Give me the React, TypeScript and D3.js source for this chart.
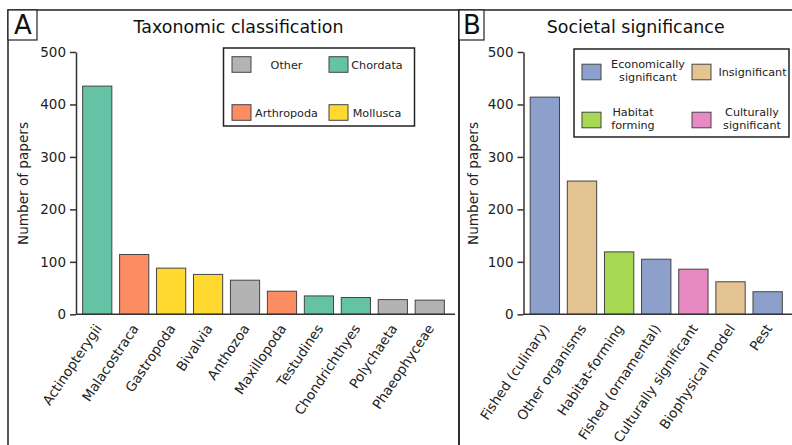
import * as d3 from "d3";
import { useEffect, useRef } from "react";

// panel A: taxonomic classification
const taxaNames = ["Actinopterygii", "Malacostraca", "Gastropoda", "Bivalvia", "Anthozoa", "Maxillopoda", "Testudines", "Chondrichthyes", "Polychaeta", "Phaeophyceae"];
const taxaCounts = [435, 114, 88, 76, 65, 44, 35, 32, 28, 27];
const taxaGroups = ["Chordata", "Arthropoda", "Mollusca", "Mollusca", "Other", "Arthropoda", "Chordata", "Chordata", "Other", "Other"];
const taxaLegend = ["Other", "Chordata", "Arthropoda", "Mollusca"];
const taxaColours = ["#b3b3b3", "#66c2a5", "#fc8d62", "#ffd92f"];

// panel B: societal significance
const sigNames = ["Fished (culinary)", "Other organisms", "Habitat-forming", "Fished (ornamental)", "Culturally significant", "Biophysical model", "Pest"];
const sigCounts = [414, 254, 119, 105, 86, 62, 43];
const sigGroups = ["Economically significant", "Insignificant", "Habitat forming", "Economically significant", "Culturally significant", "Insignificant", "Economically significant"];
const sigLegend = ["Economically significant", "Insignificant", "Habitat forming", "Culturally significant"];
const sigColours = ["#8da0cb", "#e5c494", "#a6d854", "#e78ac3"];

const yTicks = [0, 100, 200, 300, 400, 500];

const W = 792, H = 445;
const FONT = "DejaVu Sans, Verdana, sans-serif";

const App = () => {
  const ref = useRef<SVGSVGElement>(null);

  useEffect(() => {
    const svg = d3.select(ref.current);
    svg.selectAll("*").remove();

    const y = d3.scaleLinear().domain([0, 500]).range([314.3, 52]);

    const panels = [
      {
        letter: "A", title: "Taxonomic classification",
        left: 8, right: 459, letterBox: [8, 37], titleX: 238.5,
        axisX: 76, xRange: [76, 451], axisEnd: 455, yLabelX: 28,
        names: taxaNames, counts: taxaCounts, groups: taxaGroups,
        legend: taxaLegend, colours: taxaColours,
        box: [223.5, 48, 191, 78], swX: [232, 329], rowC: [64.5, 112.5], txtX: [286.5, 377, 286.5, 377], split: false,
      },
      {
        letter: "B", title: "Societal significance",
        left: 459, right: 800, letterBox: [459, 484], titleX: 635.7,
        axisX: 523.5, xRange: [523.5, 789], axisEnd: 795, yLabelX: 478,
        names: sigNames, counts: sigCounts, groups: sigGroups,
        legend: sigLegend, colours: sigColours,
        box: [574, 49, 215, 88], swX: [582, 692], rowC: [72, 120], txtX: [648, 752.5, 633, 752], split: true,
      },
    ];

    panels.forEach(p => {
      const g = svg.append("g");
      const colour = d3.scaleOrdinal<string, string>().domain(p.legend).range(p.colours);

      // panel frame + letter box
      g.append("rect").attr("x", p.left).attr("y", 10).attr("width", p.right - p.left).attr("height", 460)
        .attr("fill", "none").attr("stroke", "#222").attr("stroke-width", 1.5);
      g.append("rect").attr("x", p.letterBox[0]).attr("y", 10).attr("width", p.letterBox[1] - p.letterBox[0]).attr("height", 30)
        .attr("fill", "white").attr("stroke", "#222").attr("stroke-width", 1.2);
      g.append("text").attr("x", (p.letterBox[0] + p.letterBox[1]) / 2 + 0.5).attr("y", 33.5)
        .attr("text-anchor", "middle").attr("font-family", FONT).attr("font-size", 26).attr("fill", "#111").text(p.letter);
      g.append("text").attr("x", p.titleX).attr("y", 33)
        .attr("text-anchor", "middle").attr("font-family", FONT).attr("font-size", 17.4).attr("fill", "#111").text(p.title);

      const x = d3.scaleBand<string>().domain(p.names).range(p.xRange as [number, number]).paddingInner(0.21).paddingOuter(0.18);

      // bars
      g.selectAll("rect.bar").data(p.names).enter().append("rect")
        .attr("class", "bar")
        .attr("x", d => x(d)!)
        .attr("y", (d, i) => y(p.counts[i]))
        .attr("width", x.bandwidth())
        .attr("height", (d, i) => y(0) - y(p.counts[i]))
        .attr("fill", (d, i) => colour(p.groups[i]))
        .attr("stroke", "#444").attr("stroke-width", 1);

      // y axis
      const ya = g.append("g").attr("transform", `translate(${p.axisX},0)`)
        .call(d3.axisLeft(y).tickValues(yTicks).tickSize(6).tickPadding(4).tickSizeOuter(0));
      ya.select(".domain").attr("stroke", "#333").attr("stroke-width", 1.5);
      ya.selectAll(".tick line").attr("stroke", "#333").attr("stroke-width", 1.5);
      ya.selectAll(".tick text").attr("font-family", FONT).attr("font-size", 13.5).attr("fill", "#222");

      // x axis
      g.append("line").attr("x1", p.axisX).attr("x2", p.axisEnd).attr("y1", y(0)).attr("y2", y(0))
        .attr("stroke", "#333").attr("stroke-width", 1.5);
      g.selectAll("text.xlab").data(p.names).enter().append("text")
        .attr("class", "xlab")
        .attr("transform", d => `translate(${x(d)! + x.bandwidth() / 2 + 5},${y(0) + 14}) rotate(-56)`)
        .attr("text-anchor", "end").attr("font-family", FONT).attr("font-size", 13.5).attr("fill", "#222")
        .text(d => d);

      // y label
      g.append("text").attr("transform", `translate(${p.yLabelX},183.5) rotate(-90)`)
        .attr("text-anchor", "middle").attr("font-family", FONT).attr("font-size", 13.6).attr("fill", "#222")
        .text("Number of papers");

      // legend
      g.append("rect").attr("x", p.box[0]).attr("y", p.box[1]).attr("width", p.box[2]).attr("height", p.box[3])
        .attr("fill", "white").attr("stroke", "#222").attr("stroke-width", 1.5);
      p.legend.forEach((name, i) => {
        const col = i % 2, row = Math.floor(i / 2);
        const c = p.rowC[row];
        g.append("rect").attr("x", p.swX[col]).attr("y", c - 7.8).attr("width", 19).attr("height", 15.6)
          .attr("fill", colour(name)).attr("stroke", "#444").attr("stroke-width", 1);
        const lines = p.split ? name.split(" ") : [name];
        const t = g.append("text").attr("text-anchor", "middle").attr("font-family", FONT).attr("font-size", 11.2).attr("fill", "#222");
        lines.forEach((ln, k) => {
          const base = lines.length === 1 ? c + 4 : c - 4 + k * 13;
          t.append("tspan").attr("x", p.txtX[i]).attr("y", base).text(ln);
        });
      });
    });
  }, []);

  return (
    <svg ref={ref} width={W} height={H} viewBox={`0 0 ${W} ${H}`}
      style={{ position: "absolute", left: 0, top: 0, background: "white" }} />
  );
};

export default App;
